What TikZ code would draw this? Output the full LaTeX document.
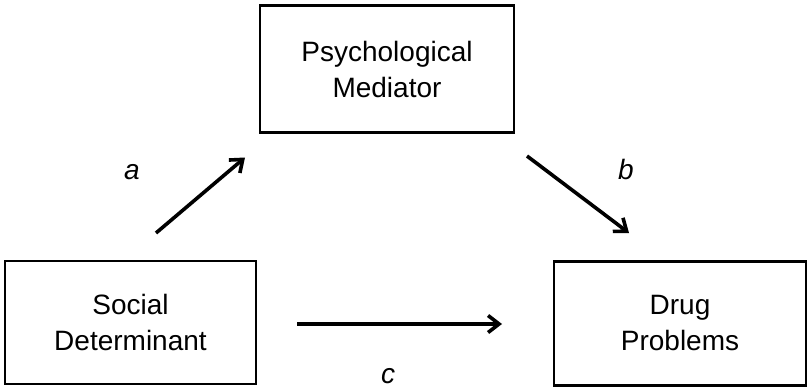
\documentclass[tikz,border=0pt]{standalone}
\usepackage{fontspec}
\setmainfont{Liberation Sans}
\usetikzlibrary{arrows.meta}
\begin{document}
\begin{tikzpicture}[x=1pt,y=-1pt,
  box/.style={draw, line width=2.4pt, inner sep=0pt, align=center,
    font=\fontsize{28}{36}\selectfont},
  arr/.style={line width=3.6pt, -{Straight Barb[length=11pt,width=17pt,line width=3.6pt]}},
  lab/.style={anchor=base, inner sep=0pt, font=\fontsize{28}{34}\selectfont\itshape}]
\useasboundingbox (0,0) rectangle (811,388);
\node[box, minimum width=254pt, minimum height=127pt] (pm) at (387,69) {Psychological\\Mediator};
\node[box, minimum width=251pt, minimum height=123pt] (sd) at (130.5,322.5) {Social\\Determinant};
\node[box, minimum width=252pt, minimum height=124pt] (dp) at (680,323.5) {Drug\\Problems};
\coordinate (a1) at (156,233);
\coordinate (a2) at (245,157.5);
\coordinate (b1) at (527,156);
\coordinate (b2) at (629,233);
\coordinate (c1) at (297,324);
\coordinate (c2) at (502,324);
\draw[arr] (a1) -- (a2);
\draw[arr] (b1) -- (b2);
\draw[arr] (c1) -- (c2);
\node[lab] (la) at (132,179) {a};
\node[lab] (lb) at (626,179) {b};
\node[lab] (lc) at (388,383) {c};
\end{tikzpicture}
\end{document}
